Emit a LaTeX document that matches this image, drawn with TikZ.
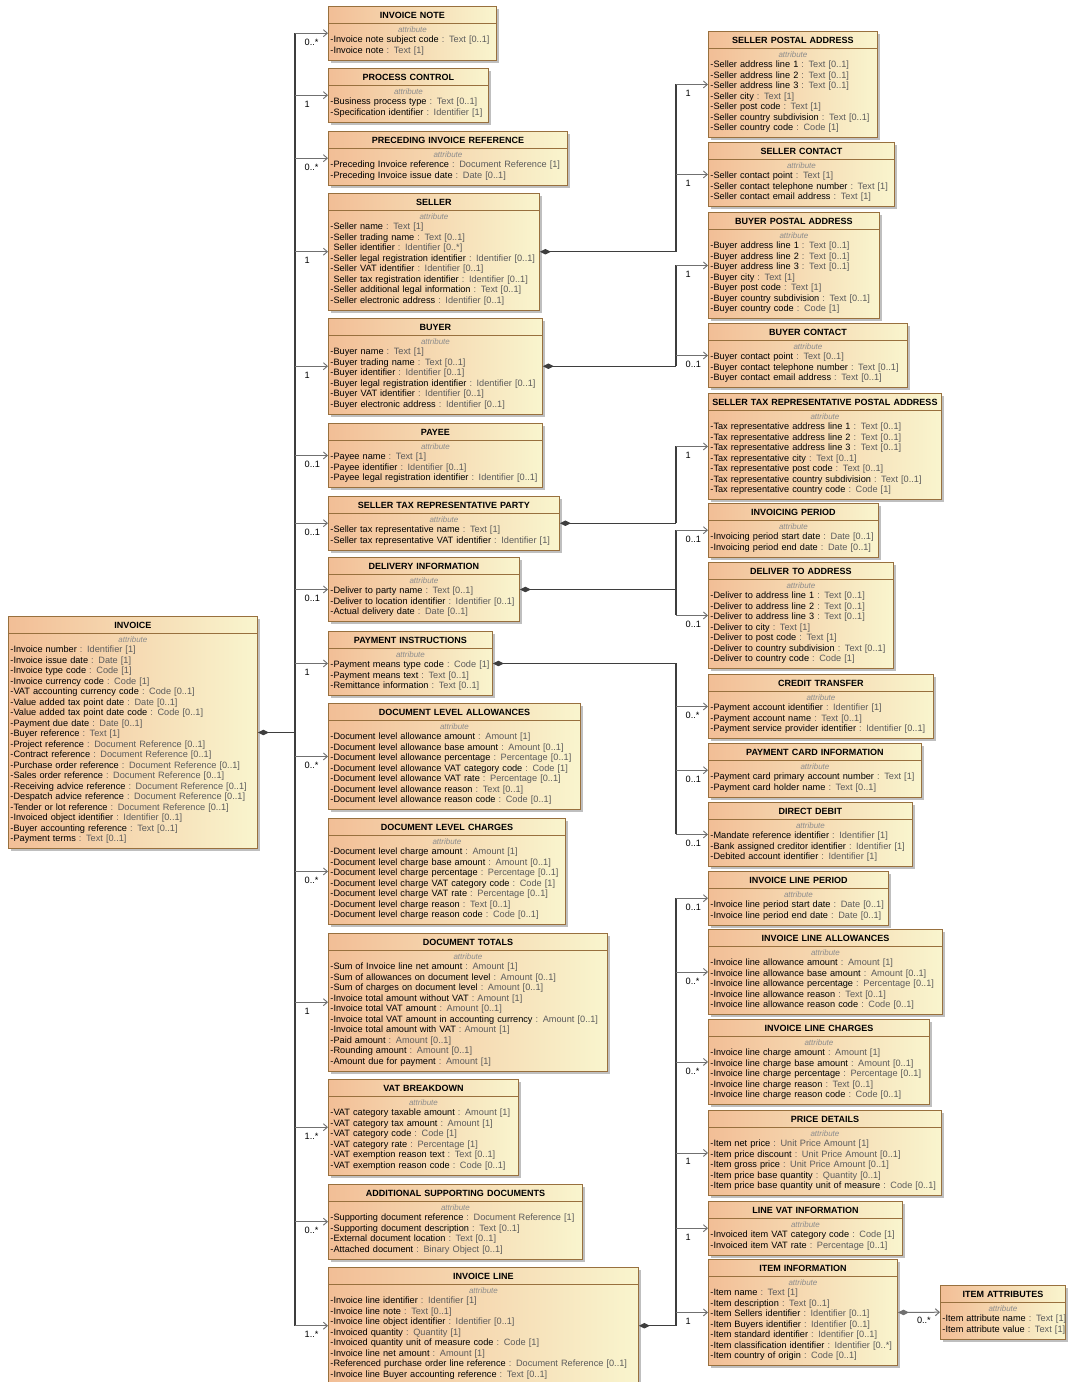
\documentclass[tikz,border=0pt]{standalone}
\usepackage{fontspec}
\setmainfont{Liberation Sans}[WordSpace=0.85]
\usepackage{xcolor}
\usepackage{tikz}
\usetikzlibrary{arrows.meta, shadows}

\definecolor{boxleft}{RGB}{242,190,150}
\definecolor{boxright}{RGB}{249,245,206}
\definecolor{boxline}{RGB}{152,112,62}
\definecolor{typegray}{RGB}{92,92,92}
\definecolor{attrgray}{RGB}{140,140,140}
\definecolor{linkgray}{RGB}{112,112,112}
\definecolor{busgray}{RGB}{62,62,62}

\newcommand{\bodyfont}{\fontsize{9.2}{10.5}\selectfont}
\newcommand{\headfont}{\fontsize{9}{10.5}\selectfont\bfseries}
\newcommand{\attrfont}{\fontsize{8}{10.5}\selectfont\itshape\color{attrgray}}
\newcommand{\fld}[2]{\\\mbox{-#1 \textcolor{typegray}{: #2}}}
\newcommand{\fldx}[2]{\\\mbox{\phantom{-}#1 \textcolor{typegray}{: #2}}}
\newcommand{\umlclass}[6]{%
  \node[classbox, text width=#4pt-4pt] (#1) at (#2,#3) {%
    \rule{0pt}{12pt}\makebox[\linewidth]{\headfont #5}\\[3.5pt]%
    \makebox[\linewidth]{\attrfont attribute}#6\rule[-6.5pt]{0pt}{6.5pt}};
  \draw[boxline, line width=0.9pt] ([yshift=-17pt]#1.north west) -- ([yshift=-17pt]#1.north east);
}

\tikzstyle{classbox} = [draw=boxline, line width=0.9pt, left color=boxleft, right color=boxright, anchor=north west, inner xsep=2pt, inner ysep=0pt, align=left, font=\bodyfont, drop shadow={shadow xshift=3pt, shadow yshift=-3pt, fill=black!45, opacity=0.55}]
\tikzstyle{assoc} = [linkgray, line width=0.9pt, -{Straight Barb[length=4pt,width=7pt]}]
\tikzstyle{compo} = [busgray, line width=1.3pt, {Diamond[length=11pt,width=5.5pt]}-]
\tikzstyle{compolink} = [linkgray, line width=1pt, {Diamond[length=11pt,width=5.5pt]}-{Straight Barb[length=4pt,width=7pt]}]
\tikzstyle{bus} = [busgray, line width=1.3pt]
\tikzstyle{mult} = [font=\bodyfont, inner sep=0pt, anchor=north west, xshift=9.5pt, yshift=-5.5pt]

\begin{document}
\begin{tikzpicture}[x=1pt, y=-1pt]
    \useasboundingbox (0,0) rectangle (1069,1382);
    \fill[white] (0,0) rectangle (1069,1382);

    % Invoice
    \umlclass{invoice}{8}{616}{249}{INVOICE}{%
    \fld{Invoice number}{Identifier [1]}
    \fld{Invoice issue date}{Date [1]}
    \fld{Invoice type code}{Code [1]}
    \fld{Invoice currency code}{Code [1]}
    \fld{VAT accounting currency code}{Code [0..1]}
    \fld{Value added tax point date}{Date [0..1]}
    \fld{Value added tax point date code}{Code [0..1]}
    \fld{Payment due date}{Date [0..1]}
    \fld{Buyer reference}{Text [1]}
    \fld{Project reference}{Document Reference [0..1]}
    \fld{Contract reference}{Document Reference [0..1]}
    \fld{Purchase order reference}{Document Reference [0..1]}
    \fld{Sales order reference}{Document Reference [0..1]}
    \fld{Receiving advice reference}{Document Reference [0..1]}
    \fld{Despatch advice reference}{Document Reference [0..1]}
    \fld{Tender or lot reference}{Document Reference [0..1]}
    \fld{Invoiced object identifier}{Identifier [0..1]}
    \fld{Buyer accounting reference}{Text [0..1]}
    \fld{Payment terms}{Text [0..1]}}

    % Invoice groups
    \umlclass{note}{328}{6}{168}{INVOICE NOTE}{%
    \fld{Invoice note subject code}{Text [0..1]}
    \fld{Invoice note}{Text [1]}}
    \umlclass{process}{328}{68}{160}{PROCESS CONTROL}{%
    \fld{Business process type}{Text [0..1]}
    \fld{Specification identifier}{Identifier [1]}}
    \umlclass{preceding}{328}{131}{239}{PRECEDING INVOICE REFERENCE}{%
    \fld{Preceding Invoice reference}{Document Reference [1]}
    \fld{Preceding Invoice issue date}{Date [0..1]}}
    \umlclass{seller}{328}{193}{211}{SELLER}{%
    \fld{Seller name}{Text [1]}
    \fld{Seller trading name}{Text [0..1]}
    \fldx{Seller identifier}{Identifier [0..*]}
    \fld{Seller legal registration identifier}{Identifier [0..1]}
    \fld{Seller VAT identifier}{Identifier [0..1]}
    \fldx{Seller tax registration identifier}{Identifier [0..1]}
    \fld{Seller additional legal information}{Text [0..1]}
    \fld{Seller electronic address}{Identifier [0..1]}}
    \umlclass{buyer}{328}{318}{214}{BUYER}{%
    \fld{Buyer name}{Text [1]}
    \fld{Buyer trading name}{Text [0..1]}
    \fld{Buyer identifier}{Identifier [0..1]}
    \fld{Buyer legal registration identifier}{Identifier [0..1]}
    \fld{Buyer VAT identifier}{Identifier [0..1]}
    \fld{Buyer electronic address}{Identifier [0..1]}}
    \umlclass{payee}{328}{423}{214}{PAYEE}{%
    \fld{Payee name}{Text [1]}
    \fld{Payee identifier}{Identifier [0..1]}
    \fld{Payee legal registration identifier}{Identifier [0..1]}}
    \umlclass{taxrep}{328}{496}{231}{SELLER TAX REPRESENTATIVE PARTY}{%
    \fld{Seller tax representative name}{Text [1]}
    \fld{Seller tax representative VAT identifier}{Identifier [1]}}
    \umlclass{delivery}{328}{557}{191}{DELIVERY INFORMATION}{%
    \fld{Deliver to party name}{Text [0..1]}
    \fld{Deliver to location identifier}{Identifier [0..1]}
    \fld{Actual delivery date}{Date [0..1]}}
    \umlclass{payment}{328}{631}{164}{PAYMENT INSTRUCTIONS}{%
    \fld{Payment means type code}{Code [1]}
    \fld{Payment means text}{Text [0..1]}
    \fld{Remittance information}{Text [0..1]}}
    \umlclass{docallow}{328}{703}{252}{DOCUMENT LEVEL ALLOWANCES}{%
    \fld{Document level allowance amount}{Amount [1]}
    \fld{Document level allowance base amount}{Amount [0..1]}
    \fld{Document level allowance percentage}{Percentage [0..1]}
    \fld{Document level allowance VAT category code}{Code [1]}
    \fld{Document level allowance VAT rate}{Percentage [0..1]}
    \fld{Document level allowance reason}{Text [0..1]}
    \fld{Document level allowance reason code}{Code [0..1]}}
    \umlclass{doccharge}{328}{818}{237}{DOCUMENT LEVEL CHARGES}{%
    \fld{Document level charge amount}{Amount [1]}
    \fld{Document level charge base amount}{Amount [0..1]}
    \fld{Document level charge percentage}{Percentage [0..1]}
    \fld{Document level charge VAT category code}{Code [1]}
    \fld{Document level charge VAT rate}{Percentage [0..1]}
    \fld{Document level charge reason}{Text [0..1]}
    \fld{Document level charge reason code}{Code [0..1]}}
    \umlclass{totals}{328}{933}{279}{DOCUMENT TOTALS}{%
    \fld{Sum of Invoice line net amount}{Amount [1]}
    \fld{Sum of allowances on document level}{Amount [0..1]}
    \fld{Sum of charges on document level}{Amount [0..1]}
    \fld{Invoice total amount without VAT}{Amount [1]}
    \fld{Invoice total VAT amount}{Amount [0..1]}
    \fld{Invoice total VAT amount in accounting currency}{Amount [0..1]}
    \fld{Invoice total amount with VAT}{Amount [1]}
    \fld{Paid amount}{Amount [0..1]}
    \fld{Rounding amount}{Amount [0..1]}
    \fld{Amount due for payment}{Amount [1]}}
    \umlclass{vat}{328}{1079}{190}{VAT BREAKDOWN}{%
    \fld{VAT category taxable amount}{Amount [1]}
    \fld{VAT category tax amount}{Amount [1]}
    \fld{VAT category code}{Code [1]}
    \fld{VAT category rate}{Percentage [1]}
    \fld{VAT exemption reason text}{Text [0..1]}
    \fld{VAT exemption reason code}{Code [0..1]}}
    \umlclass{supdocs}{328}{1184}{254}{ADDITIONAL SUPPORTING DOCUMENTS}{%
    \fld{Supporting document reference}{Document Reference [1]}
    \fld{Supporting document description}{Text [0..1]}
    \fld{External document location}{Text [0..1]}
    \fld{Attached document}{Binary Object [0..1]}}
    \umlclass{iline}{328}{1267}{310}{INVOICE LINE}{%
    \fld{Invoice line identifier}{Identifier [1]}
    \fld{Invoice line note}{Text [0..1]}
    \fld{Invoice line object identifier}{Identifier [0..1]}
    \fld{Invoiced quantity}{Quantity [1]}
    \fld{Invoiced quantity unit of measure code}{Code [1]}
    \fld{Invoice line net amount}{Amount [1]}
    \fld{Referenced purchase order line reference}{Document Reference [0..1]}
    \fld{Invoice line Buyer accounting reference}{Text [0..1]}}

    % Sub groups
    \umlclass{spa}{708}{31}{169}{SELLER POSTAL ADDRESS}{%
    \fld{Seller address line 1}{Text [0..1]}
    \fld{Seller address line 2}{Text [0..1]}
    \fld{Seller address line 3}{Text [0..1]}
    \fld{Seller city}{Text [1]}
    \fld{Seller post code}{Text [1]}
    \fld{Seller country subdivision}{Text [0..1]}
    \fld{Seller country code}{Code [1]}}
    \umlclass{scontact}{708}{142}{186}{SELLER CONTACT}{%
    \fld{Seller contact point}{Text [1]}
    \fld{Seller contact telephone number}{Text [1]}
    \fld{Seller contact email address}{Text [1]}}
    \umlclass{bpa}{708}{212}{171}{BUYER POSTAL ADDRESS}{%
    \fld{Buyer address line 1}{Text [0..1]}
    \fld{Buyer address line 2}{Text [0..1]}
    \fld{Buyer address line 3}{Text [0..1]}
    \fld{Buyer city}{Text [1]}
    \fld{Buyer post code}{Text [1]}
    \fld{Buyer country subdivision}{Text [0..1]}
    \fld{Buyer country code}{Code [1]}}
    \umlclass{bcontact}{708}{323}{199}{BUYER CONTACT}{%
    \fld{Buyer contact point}{Text [0..1]}
    \fld{Buyer contact telephone number}{Text [0..1]}
    \fld{Buyer contact email address}{Text [0..1]}}
    \umlclass{trpa}{708}{393}{233}{SELLER TAX REPRESENTATIVE POSTAL ADDRESS}{%
    \fld{Tax representative address line 1}{Text [0..1]}
    \fld{Tax representative address line 2}{Text [0..1]}
    \fld{Tax representative address line 3}{Text [0..1]}
    \fld{Tax representative city}{Text [0..1]}
    \fld{Tax representative post code}{Text [0..1]}
    \fld{Tax representative country subdivision}{Text [0..1]}
    \fld{Tax representative country code}{Code [1]}}
    \umlclass{iperiod}{708}{503}{170}{INVOICING PERIOD}{%
    \fld{Invoicing period start date}{Date [0..1]}
    \fld{Invoicing period end date}{Date [0..1]}}
    \umlclass{dta}{708}{562}{185}{DELIVER TO ADDRESS}{%
    \fld{Deliver to address line 1}{Text [0..1]}
    \fld{Deliver to address line 2}{Text [0..1]}
    \fld{Deliver to address line 3}{Text [0..1]}
    \fld{Deliver to city}{Text [1]}
    \fld{Deliver to post code}{Text [1]}
    \fld{Deliver to country subdivision}{Text [0..1]}
    \fld{Deliver to country code}{Code [1]}}
    \umlclass{credit}{708}{674}{225}{CREDIT TRANSFER}{%
    \fld{Payment account identifier}{Identifier [1]}
    \fld{Payment account name}{Text [0..1]}
    \fld{Payment service provider identifier}{Identifier [0..1]}}
    \umlclass{card}{708}{743}{213}{PAYMENT CARD INFORMATION}{%
    \fld{Payment card primary account number}{Text [1]}
    \fld{Payment card holder name}{Text [0..1]}}
    \umlclass{debit}{708}{802}{204}{DIRECT DEBIT}{%
    \fld{Mandate reference identifier}{Identifier [1]}
    \fld{Bank assigned creditor identifier}{Identifier [1]}
    \fld{Debited account identifier}{Identifier [1]}}
    \umlclass{lperiod}{708}{871}{180}{INVOICE LINE PERIOD}{%
    \fld{Invoice line period start date}{Date [0..1]}
    \fld{Invoice line period end date}{Date [0..1]}}
    \umlclass{lallow}{708}{929}{234}{INVOICE LINE ALLOWANCES}{%
    \fld{Invoice line allowance amount}{Amount [1]}
    \fld{Invoice line allowance base amount}{Amount [0..1]}
    \fld{Invoice line allowance percentage}{Percentage [0..1]}
    \fld{Invoice line allowance reason}{Text [0..1]}
    \fld{Invoice line allowance reason code}{Code [0..1]}}
    \umlclass{lcharge}{708}{1019}{221}{INVOICE LINE CHARGES}{%
    \fld{Invoice line charge amount}{Amount [1]}
    \fld{Invoice line charge base amount}{Amount [0..1]}
    \fld{Invoice line charge percentage}{Percentage [0..1]}
    \fld{Invoice line charge reason}{Text [0..1]}
    \fld{Invoice line charge reason code}{Code [0..1]}}
    \umlclass{price}{708}{1110}{233}{PRICE DETAILS}{%
    \fld{Item net price}{Unit Price Amount [1]}
    \fld{Item price discount}{Unit Price Amount [0..1]}
    \fld{Item gross price}{Unit Price Amount [0..1]}
    \fld{Item price base quantity}{Quantity [0..1]}
    \fld{Item price base quantity unit of measure}{Code [0..1]}}
    \umlclass{linevat}{708}{1201}{194}{LINE VAT INFORMATION}{%
    \fld{Invoiced item VAT category code}{Code [1]}
    \fld{Invoiced item VAT rate}{Percentage [0..1]}}
    \umlclass{item}{708}{1259}{189}{ITEM INFORMATION}{%
    \fld{Item name}{Text [1]}
    \fld{Item description}{Text [0..1]}
    \fld{Item Sellers identifier}{Identifier [0..1]}
    \fld{Item Buyers identifier}{Identifier [0..1]}
    \fld{Item standard identifier}{Identifier [0..1]}
    \fld{Item classification identifier}{Identifier [0..*]}
    \fld{Item country of origin}{Code [0..1]}}
    \umlclass{itemattr}{940}{1285}{125}{ITEM ATTRIBUTES}{%
    \fld{Item attribute name}{Text [1]}
    \fld{Item attribute value}{Text [1]}}

    % Trunks
    \coordinate (trunk) at (295,0);
    \coordinate (rtrunk) at (676,0);

    % Invoice to its groups
    \draw[compo] (invoice.east) -- (trunk |- invoice.east);
    \draw[bus] (trunk |- note.west) -- (trunk |- iline.west);
    \draw[assoc] (trunk |- note.west) -- (note.west);
    \draw[assoc] (trunk |- process.west) -- (process.west);
    \draw[assoc] (trunk |- preceding.west) -- (preceding.west);
    \draw[assoc] (trunk |- seller.west) -- (seller.west);
    \draw[assoc] (trunk |- buyer.west) -- (buyer.west);
    \draw[assoc] (trunk |- payee.west) -- (payee.west);
    \draw[assoc] (trunk |- taxrep.west) -- (taxrep.west);
    \draw[assoc] (trunk |- delivery.west) -- (delivery.west);
    \draw[assoc] (trunk |- payment.west) -- (payment.west);
    \draw[assoc] (trunk |- docallow.west) -- (docallow.west);
    \draw[assoc] (trunk |- doccharge.west) -- (doccharge.west);
    \draw[assoc] (trunk |- totals.west) -- (totals.west);
    \draw[assoc] (trunk |- vat.west) -- (vat.west);
    \draw[assoc] (trunk |- supdocs.west) -- (supdocs.west);
    \draw[assoc] (trunk |- iline.west) -- (iline.west);

    % Multiplicities
    \node[mult] (mnote) at (trunk |- note.west) {0..*};
    \node[mult] (mprocess) at (trunk |- process.west) {1};
    \node[mult] (mpreceding) at (trunk |- preceding.west) {0..*};
    \node[mult] (mseller) at (trunk |- seller.west) {1};
    \node[mult] (mbuyer) at (trunk |- buyer.west) {1};
    \node[mult] (mpayee) at (trunk |- payee.west) {0..1};
    \node[mult] (mtaxrep) at (trunk |- taxrep.west) {0..1};
    \node[mult] (mdelivery) at (trunk |- delivery.west) {0..1};
    \node[mult] (mpayment) at (trunk |- payment.west) {1};
    \node[mult] (mdocallow) at (trunk |- docallow.west) {0..*};
    \node[mult] (mdoccharge) at (trunk |- doccharge.west) {0..*};
    \node[mult] (mtotals) at (trunk |- totals.west) {1};
    \node[mult] (mvat) at (trunk |- vat.west) {1..*};
    \node[mult] (msupdocs) at (trunk |- supdocs.west) {0..*};
    \node[mult] (miline) at (trunk |- iline.west) {1..*};

    % Seller and buyer parts
    \draw[compo] (seller.east) -- (rtrunk |- seller.east);
    \draw[bus] (rtrunk |- seller.east) -- (rtrunk |- spa.west);
    \draw[assoc] (rtrunk |- spa.west) -- (spa.west);
    \draw[assoc] (rtrunk |- scontact.west) -- (scontact.west);
    \draw[compo] (buyer.east) -- (rtrunk |- buyer.east);
    \draw[bus] (rtrunk |- buyer.east) -- (rtrunk |- bpa.west);
    \draw[assoc] (rtrunk |- bpa.west) -- (bpa.west);
    \draw[assoc] (rtrunk |- bcontact.west) -- (bcontact.west);
    \draw[compo] (taxrep.east) -- (rtrunk |- taxrep.east);
    \draw[bus] (rtrunk |- taxrep.east) -- (rtrunk |- trpa.west);
    \draw[assoc] (rtrunk |- trpa.west) -- (trpa.west);
    \node[mult] (mspa) at (rtrunk |- spa.west) {1};
    \node[mult] (mscontact) at (rtrunk |- scontact.west) {1};
    \node[mult] (mbpa) at (rtrunk |- bpa.west) {1};
    \node[mult] (mbcontact) at (rtrunk |- bcontact.west) {0..1};
    \node[mult] (mtrpa) at (rtrunk |- trpa.west) {1};

    % Delivery and payment parts
    \draw[compo] (delivery.east) -- (rtrunk |- delivery.east);
    \draw[bus] (rtrunk |- iperiod.west) -- (rtrunk |- dta.west);
    \draw[assoc] (rtrunk |- iperiod.west) -- (iperiod.west);
    \draw[assoc] (rtrunk |- dta.west) -- (dta.west);
    \draw[compo] (payment.east) -- (rtrunk |- payment.east);
    \draw[bus] (rtrunk |- payment.east) -- (rtrunk |- debit.west);
    \draw[assoc] (rtrunk |- credit.west) -- (credit.west);
    \draw[assoc] (rtrunk |- card.west) -- (card.west);
    \draw[assoc] (rtrunk |- debit.west) -- (debit.west);
    \node[mult] (miperiod) at (rtrunk |- iperiod.west) {0..1};
    \node[mult] (mdta) at (rtrunk |- dta.west) {0..1};
    \node[mult] (mcredit) at (rtrunk |- credit.west) {0..*};
    \node[mult] (mcard) at (rtrunk |- card.west) {0..1};
    \node[mult] (mdebit) at (rtrunk |- debit.west) {0..1};

    % Invoice line parts
    \draw[compo] (iline.east) -- (rtrunk |- iline.east);
    \draw[bus] (rtrunk |- lperiod.west) -- (rtrunk |- iline.east);
    \draw[assoc] (rtrunk |- lperiod.west) -- (lperiod.west);
    \draw[assoc] (rtrunk |- lallow.west) -- (lallow.west);
    \draw[assoc] (rtrunk |- lcharge.west) -- (lcharge.west);
    \draw[assoc] (rtrunk |- price.west) -- (price.west);
    \draw[assoc] (rtrunk |- linevat.west) -- (linevat.west);
    \draw[assoc] (rtrunk |- item.west) -- (item.west);
    \node[mult] (mlperiod) at (rtrunk |- lperiod.west) {0..1};
    \node[mult] (mlallow) at (rtrunk |- lallow.west) {0..*};
    \node[mult] (mlcharge) at (rtrunk |- lcharge.west) {0..*};
    \node[mult] (mprice) at (rtrunk |- price.west) {1};
    \node[mult] (mlinevat) at (rtrunk |- linevat.west) {1};
    \node[mult] (mitem) at (rtrunk |- item.west) {1};

    % Item attributes
    \draw[compolink] (item.east) -- (itemattr.west);
    \node[font=\bodyfont, inner sep=0pt, anchor=north east, xshift=-9pt, yshift=-5pt] (mitemattr) at (itemattr.west) {0..*};
\end{tikzpicture}
\end{document}
